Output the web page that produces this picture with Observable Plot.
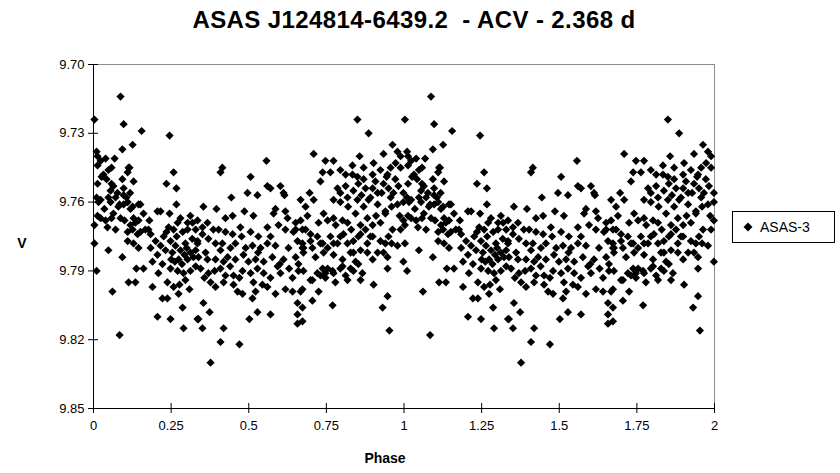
<!DOCTYPE html>
<html><head><meta charset="utf-8">
<script src="https://cdn.jsdelivr.net/npm/d3@7"></script>
<script src="https://cdn.jsdelivr.net/npm/@observablehq/plot@0.6"></script>
<style>
body{margin:0;background:#fff;}
#wrap{position:relative;width:840px;height:473px;background:#fff;font-family:"Liberation Sans",Arial,sans-serif;color:#000;}
#wrap svg{position:absolute;left:0;top:0;}
.lbl{position:absolute;font-weight:bold;white-space:pre;}
</style></head><body>
<div id="wrap">
</div>
<script>
// Phase-folded light curve (phase 0..1, V magnitude); the chart repeats it for phase 1..2
const ptsEarly = [
[0.003,9.724],[0.087,9.714],[0.097,9.726],[0.155,9.729],[0.245,9.731],[0.010,9.738],[0.093,9.737],[0.126,9.735],
[0.013,9.740],[0.039,9.741],[0.023,9.742],[0.068,9.741],[0.013,9.744],[0.048,9.746],[0.032,9.748],[0.113,9.745],
[0.110,9.747],[0.258,9.747],[0.235,9.752],[0.267,9.754],[0.013,9.752],[0.042,9.750],[0.064,9.753],[0.093,9.750],
[0.097,9.754],[0.129,9.751],[0.055,9.755],[0.077,9.756],[0.106,9.758],[0.010,9.758],[0.023,9.759],[0.048,9.758],
[0.055,9.760],[0.097,9.761],[0.126,9.762],[0.145,9.761],[0.267,9.761],[0.161,9.765],[0.206,9.764],[0.216,9.764],
[0.245,9.765],[0.013,9.766],[0.039,9.768],[0.064,9.765],[0.087,9.767],[0.129,9.767],[0.280,9.767],[0.312,9.766],
[0.303,9.769],[0.335,9.768],[0.045,9.771],[0.071,9.772],[0.110,9.773],[0.151,9.773],[0.167,9.772],[0.242,9.771],
[0.258,9.772],[0.303,9.772],[0.058,9.752],[0.116,9.745],[0.097,9.757],[0.016,9.760],[0.071,9.758],[0.084,9.761],
[0.110,9.760],[0.119,9.763],[0.151,9.761],[0.180,9.768],[0.023,9.767],[0.058,9.767],[0.100,9.768],[0.119,9.770],
[0.135,9.769],[0.126,9.772],[0.142,9.774],[0.110,9.777],[0.129,9.778],[0.145,9.780],[0.184,9.774],[0.184,9.780],
[0.177,9.772],[0.003,9.778],[0.048,9.781],[0.093,9.784],[0.138,9.789],[0.161,9.789],[0.113,9.795],[0.135,9.795],
[0.190,9.797],[0.061,9.799],[0.010,9.790],[0.084,9.818],[0.206,9.810],[0.248,9.811],[0.290,9.815],[0.335,9.811],
[0.309,9.798],[0.235,9.773],[0.271,9.769],[0.287,9.773],[0.319,9.769],[0.329,9.772],[0.248,9.777],[0.264,9.779],
[0.280,9.781],[0.296,9.778],[0.312,9.782],[0.335,9.778],[0.254,9.782],[0.274,9.785],[0.303,9.785],[0.322,9.784],
[0.206,9.783],[0.222,9.787],[0.248,9.789],[0.271,9.790],[0.290,9.791],[0.312,9.790],[0.238,9.795],[0.258,9.797],
[0.274,9.800],[0.222,9.802],[0.238,9.802],[0.287,9.806],[0.209,9.791],[0.200,9.777],[0.216,9.779],[0.296,9.794],
[0.232,9.781],[0.329,9.788],[0.262,9.786],[0.285,9.787],[0.300,9.780],[0.268,9.775],[0.293,9.783],[0.250,9.785],
[0.318,9.776],[0.277,9.796],[0.026,9.749],[0.058,9.745],[0.080,9.762],[0.035,9.763],[0.003,9.770],[0.118,9.756],
[0.145,9.768],[0.190,9.786],[0.226,9.775]
];
const ptsMiddle = [
[0.415,9.745],[0.409,9.747],[0.557,9.742],[0.506,9.749],[0.560,9.753],[0.570,9.754],[0.602,9.753],[0.612,9.756],
[0.615,9.757],[0.496,9.756],[0.528,9.757],[0.444,9.758],[0.667,9.759],[0.354,9.762],[0.396,9.763],[0.425,9.767],
[0.448,9.766],[0.486,9.764],[0.515,9.766],[0.586,9.763],[0.580,9.765],[0.618,9.764],[0.625,9.767],[0.367,9.769],
[0.403,9.772],[0.386,9.772],[0.351,9.771],[0.473,9.771],[0.506,9.773],[0.560,9.771],[0.596,9.770],[0.651,9.769],
[0.673,9.772],[0.644,9.773],[0.683,9.762],[0.351,9.774],[0.425,9.773],[0.448,9.774],[0.477,9.775],[0.531,9.775],
[0.570,9.775],[0.618,9.772],[0.651,9.772],[0.335,9.777],[0.370,9.776],[0.393,9.778],[0.415,9.778],[0.441,9.780],
[0.457,9.778],[0.490,9.780],[0.512,9.779],[0.538,9.780],[0.560,9.778],[0.586,9.779],[0.628,9.780],[0.657,9.777],
[0.673,9.780],[0.329,9.781],[0.361,9.782],[0.409,9.781],[0.338,9.784],[0.367,9.785],[0.393,9.785],[0.419,9.786],
[0.432,9.784],[0.457,9.785],[0.483,9.783],[0.499,9.786],[0.522,9.785],[0.548,9.786],[0.576,9.784],[0.593,9.788],
[0.612,9.785],[0.651,9.784],[0.660,9.787],[0.345,9.789],[0.370,9.791],[0.409,9.789],[0.425,9.792],[0.451,9.792],
[0.480,9.790],[0.506,9.791],[0.528,9.789],[0.548,9.791],[0.570,9.793],[0.602,9.791],[0.641,9.793],[0.660,9.790],
[0.357,9.793],[0.377,9.795],[0.393,9.797],[0.451,9.796],[0.464,9.799],[0.480,9.800],[0.515,9.795],[0.522,9.799],
[0.544,9.796],[0.586,9.800],[0.618,9.798],[0.641,9.799],[0.673,9.798],[0.657,9.804],[0.354,9.804],[0.512,9.802],
[0.419,9.795],[0.673,9.806],[0.374,9.808],[0.338,9.811],[0.351,9.815],[0.419,9.815],[0.409,9.821],[0.470,9.822],
[0.377,9.830],[0.528,9.808],[0.570,9.809],[0.502,9.811],[0.657,9.809],[0.657,9.813],[0.673,9.812],[0.440,9.788],
[0.530,9.782],[0.600,9.787],[0.470,9.793],[0.390,9.790],[0.560,9.797],[0.630,9.789]
];
const ptsLate = [
[0.770,9.805],[0.931,9.806],[0.947,9.801],[0.953,9.816],[0.947,9.789],[0.979,9.779],[0.902,9.796],[0.934,9.782],
[0.705,9.803],[0.725,9.799],[0.667,9.799],[0.705,9.794],[0.676,9.790],[0.747,9.791],[0.773,9.791],[0.818,9.794],
[0.860,9.794],[0.866,9.791],[0.853,9.787],[0.828,9.789],[0.802,9.788],[0.754,9.789],[0.731,9.792],[0.676,9.780],
[0.699,9.777],[0.731,9.778],[0.754,9.780],[0.773,9.778],[0.795,9.775],[0.818,9.778],[0.837,9.782],[0.860,9.781],
[0.882,9.778],[0.892,9.775],[0.915,9.782],[0.860,9.774],[0.850,9.724],[0.886,9.730],[0.709,9.739],[0.747,9.742],
[0.773,9.742],[0.857,9.740],[0.834,9.744],[0.902,9.743],[0.934,9.739],[0.963,9.735],[0.979,9.738],[0.989,9.740],
[0.738,9.747],[0.763,9.747],[0.795,9.746],[0.812,9.748],[0.834,9.748],[0.850,9.749],[0.870,9.750],[0.899,9.748],
[0.924,9.746],[0.947,9.748],[0.957,9.745],[0.973,9.743],[0.989,9.745],[0.731,9.751],[0.696,9.756],[0.709,9.759],
[0.786,9.754],[0.795,9.756],[0.812,9.753],[0.837,9.755],[0.853,9.752],[0.876,9.754],[0.899,9.754],[0.915,9.756],
[0.934,9.752],[0.950,9.754],[0.966,9.756],[0.982,9.753],[0.998,9.756],[0.773,9.759],[0.795,9.760],[0.818,9.758],
[0.850,9.759],[0.870,9.762],[0.886,9.759],[0.915,9.761],[0.940,9.764],[0.957,9.758],[0.979,9.761],[0.998,9.760],
[0.741,9.765],[0.754,9.768],[0.725,9.769],[0.689,9.766],[0.667,9.768],[0.773,9.767],[0.802,9.768],[0.818,9.769],
[0.844,9.765],[0.860,9.770],[0.882,9.767],[0.899,9.770],[0.924,9.769],[0.940,9.765],[0.963,9.772],[0.998,9.768],
[0.683,9.772],[0.699,9.774],[0.721,9.775],[0.673,9.778],[0.705,9.780],[0.738,9.778],[0.763,9.775],[0.786,9.778],
[0.805,9.774],[0.837,9.777],[0.853,9.775],[0.876,9.772],[0.899,9.775],[0.924,9.777],[0.940,9.778],[0.950,9.775],
[0.989,9.772],[0.676,9.782],[0.715,9.784],[0.741,9.782],[0.773,9.783],[0.802,9.785],[0.828,9.782],[0.844,9.786],
[0.882,9.782],[0.899,9.785],[0.947,9.784],[0.721,9.791],[0.738,9.789],[0.770,9.790],[0.795,9.789],[0.812,9.792],
[0.837,9.790],[0.998,9.786],[0.699,9.794],[0.747,9.793],[0.779,9.795],[0.863,9.757],[0.892,9.758],[0.908,9.751],
[0.928,9.756],[0.944,9.749],[0.960,9.762],[0.972,9.750],[0.986,9.766],[0.870,9.745],[0.820,9.762],[0.780,9.770],
[0.960,9.778],[0.910,9.766],[0.830,9.772]
];
const xTicks = [0, 0.25, 0.5, 0.75, 1, 1.25, 1.5, 1.75, 2];
const yTicks = [9.70, 9.73, 9.76, 9.79, 9.82, 9.85];
const titleText = "ASAS J124814-6439.2  - ACV - 2.368 d";
const xLabel = "Phase";
const yLabel = "V";
const seriesName = "ASAS-3";

const folded = [...ptsEarly, ...ptsMiddle, ...ptsLate];
const rows = folded.flatMap(([p, v]) => [{phase: p, V: v}, {phase: p + 1, V: v}]);

const W = 840, H = 473;
const chart = Plot.plot({
  width: W, height: H,
  marginTop: 64, marginBottom: 65, marginLeft: 93, marginRight: 126,
  style: {fontFamily: '"Liberation Sans", Arial, sans-serif', fontSize: "13px", color: "#000", background: "transparent"},
  x: {domain: [0, 2]},
  y: {domain: [9.70, 9.85], reverse: true},
  marks: [
    Plot.frame({stroke: "#8c8c8c"}),
    Plot.dot(rows, {x: "phase", y: "V", symbol: "diamond2", r: 3.7, fill: "#000", stroke: "none"}),
    Plot.ruleX([0], {stroke: "#000"}),
    Plot.ruleY([9.85], {stroke: "#000"}),
    Plot.tickX(xTicks, {x: d => d, insetTop: 339, stroke: "#000"}),
    Plot.tickY(yTicks, {y: d => d, insetRight: 616, stroke: "#000"}),
    Plot.axisX({ticks: xTicks, tickSize: 5, tickPadding: 7, label: null, tickFormat: d => String(d), stroke: "#000"}),
    Plot.axisY({ticks: yTicks, tickSize: 5, tickPadding: 4, label: null, tickFormat: d3.format(".2f"), stroke: "#000"})
  ]
});
const wrap = document.getElementById("wrap");
wrap.appendChild(chart);

function addLabel(text, css) {
  const d = document.createElement("div");
  d.className = "lbl";
  d.textContent = text;
  Object.assign(d.style, css);
  wrap.appendChild(d);
  return d;
}
addLabel(titleText, {left: "0px", top: "5px", width: "828px", textAlign: "center", fontSize: "24px", letterSpacing: "0.4px", lineHeight: "30px"});
addLabel(yLabel, {left: "12px", top: "234px", width: "20px", textAlign: "center", fontSize: "14px", lineHeight: "18px"});
addLabel(xLabel, {left: "335px", top: "449px", width: "100px", textAlign: "center", fontSize: "14px", lineHeight: "18px"});

const leg = document.createElement("div");
Object.assign(leg.style, {position: "absolute", left: "732px", top: "211px", width: "103px", height: "32px",
  border: "1px solid #000", background: "#fff", boxSizing: "border-box", display: "flex", alignItems: "center"});
leg.innerHTML = '<svg width="14" height="12" style="position:static;margin-left:8px"><path d="M7,1.5L11.5,6L7,10.5L2.5,6Z" fill="#000"/></svg>';
const lt = document.createElement("span");
lt.textContent = seriesName;
Object.assign(lt.style, {fontSize: "14px", marginLeft: "5px"});
leg.appendChild(lt);
wrap.appendChild(leg);
</script>
</body></html>
